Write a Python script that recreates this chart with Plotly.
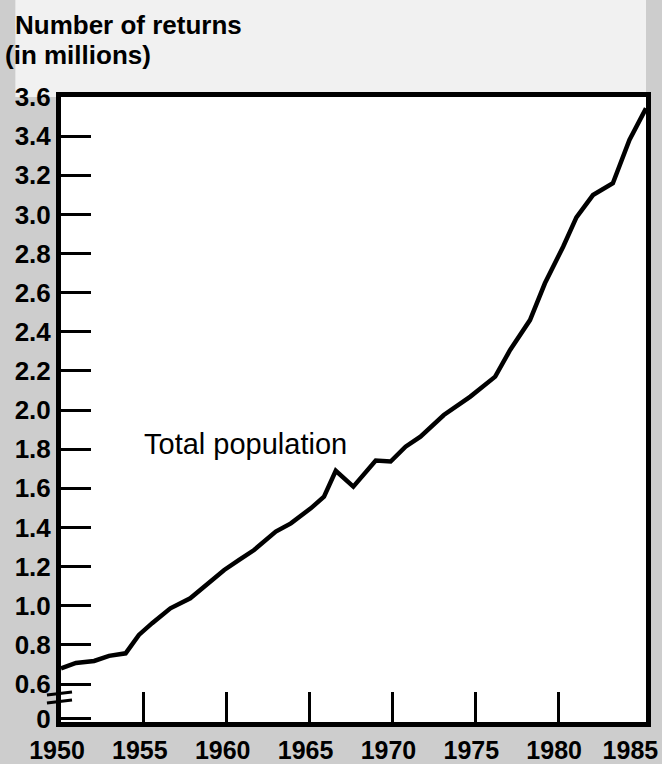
import plotly.graph_objects as go

# Data (year positions, returns in millions)
years = [1950.0, 1950.9, 1952.0, 1952.9, 1953.9, 1954.7, 1955.5, 1956.6, 1957.8,
         1958.75, 1959.85, 1960.75, 1961.65, 1962.96, 1963.87, 1965.07, 1965.87,
         1966.58, 1967.64, 1968.99, 1969.89, 1970.79, 1971.69, 1973.1, 1974.7,
         1976.2, 1977.1, 1978.3, 1979.2, 1980.3, 1981.1, 1982.1, 1983.3, 1984.3,
         1985.3]
returns = [0.68, 0.708, 0.718, 0.744, 0.757, 0.851, 0.911, 0.987, 1.038,
           1.106, 1.183, 1.234, 1.285, 1.379, 1.421, 1.498, 1.558,
           1.690, 1.609, 1.742, 1.737, 1.813, 1.864, 1.975, 2.069,
           2.171, 2.307, 2.460, 2.648, 2.835, 2.985, 3.099, 3.159, 3.380,
           3.542]

# tick labels (the last one sits slightly left, as in the original, to stay on the page)
x_label_pos = [1950, 1955, 1960, 1965, 1970, 1975, 1980, 1984.6]
x_tick_text = ["1950", "1955", "1960", "1965", "1970", "1975", "1980", "1985"]
x_minor_ticks = [1955, 1960, 1965, 1970, 1975, 1980]
y_floor = 0.406      # bottom of the broken axis (labelled "0")
y_zero_label = 0.4215
y_tick_vals = [y_zero_label, 0.6, 0.8, 1.0, 1.2, 1.4, 1.6, 1.8, 2.0, 2.2, 2.4, 2.6,
               2.8, 3.0, 3.2, 3.4, 3.6]
y_tick_text = ["0", "0.6", "0.8", "1.0", "1.2", "1.4", "1.6", "1.8", "2.0", "2.2",
               "2.4", "2.6", "2.8", "3.0", "3.2", "3.4", "3.6"]

FONT = "Liberation Sans, Arial, Helvetica, sans-serif"

fig = go.Figure()
fig.add_trace(go.Scatter(
    x=years, y=returns, mode="lines",
    line=dict(color="black", width=4.5),
    hoverinfo="skip", showlegend=False,
))

fig.update_layout(
    width=662, height=764,
    autosize=False,
    margin=dict(l=61, r=16, t=97, b=42, autoexpand=False),
    paper_bgcolor="#cdcdcd",
    plot_bgcolor="white",
    showlegend=False,
    xaxis=dict(
        range=[1950.0, 1985.3],
        automargin=False,
        tickmode="array", tickvals=x_label_pos, ticktext=x_tick_text,
        ticks="", showgrid=False, zeroline=False,
        showline=True, linewidth=5, linecolor="black", mirror=True,
        tickfont=dict(family=FONT, size=25, color="black", weight="bold"),
        ticklabelshift=-4, ticklabelstandoff=2, ticklabeloverflow="allow",
        minor=dict(tickmode="array", tickvals=x_minor_ticks, ticks="inside",
                   ticklen=30, tickwidth=3, tickcolor="black", showgrid=False),
    ),
    yaxis=dict(
        range=[y_floor, 3.6],
        automargin=False,
        tickmode="array", tickvals=y_tick_vals, ticktext=y_tick_text,
        ticks="inside", ticklen=30, tickwidth=3, tickcolor="black",
        showgrid=False, zeroline=False,
        showline=True, linewidth=5, linecolor="black", mirror=True,
        tickfont=dict(family=FONT, size=26, color="black", weight="bold"),
        ticklabeloverflow="allow",
    ),
    shapes=[
        # lighter (mostly white) speckled area at top
        dict(type="rect", xref="paper", yref="paper", x0=-0.078, x1=1.0,
             y0=1.0, y1=1.2, fillcolor="#f1f1f1", line=dict(width=0),
             layer="below"),
        # axis break marks
        dict(type="line", xref="paper", yref="paper", x0=-0.024, y0=0.0432,
             x1=0.0188, y1=0.048, line=dict(color="black", width=3)),
        dict(type="line", xref="paper", yref="paper", x0=-0.024, y0=0.0304,
             x1=0.0188, y1=0.0352, line=dict(color="black", width=3)),
    ],
    annotations=[
        dict(text="Number of returns", xref="paper", yref="paper",
             x=-0.082, y=1.1152, xanchor="left", yanchor="middle",
             showarrow=False,
             font=dict(family=FONT, size=26, color="black", weight="bold")),
        dict(text="(in millions)", xref="paper", yref="paper",
             x=-0.0991, y=1.0672, xanchor="left", yanchor="middle",
             showarrow=False,
             font=dict(family=FONT, size=26, color="black", weight="bold")),
        dict(text="Total population", xref="paper", yref="paper",
             x=0.1385, y=0.4448, xanchor="left", yanchor="middle",
             showarrow=False,
             font=dict(family=FONT, size=29, color="black")),
    ],
)

fig.write_html(
    "out.html",
    config={"displayModeBar": False, "staticPlot": True},
    post_script="document.body.style.margin='0px';document.body.style.overflow='hidden';",
)
